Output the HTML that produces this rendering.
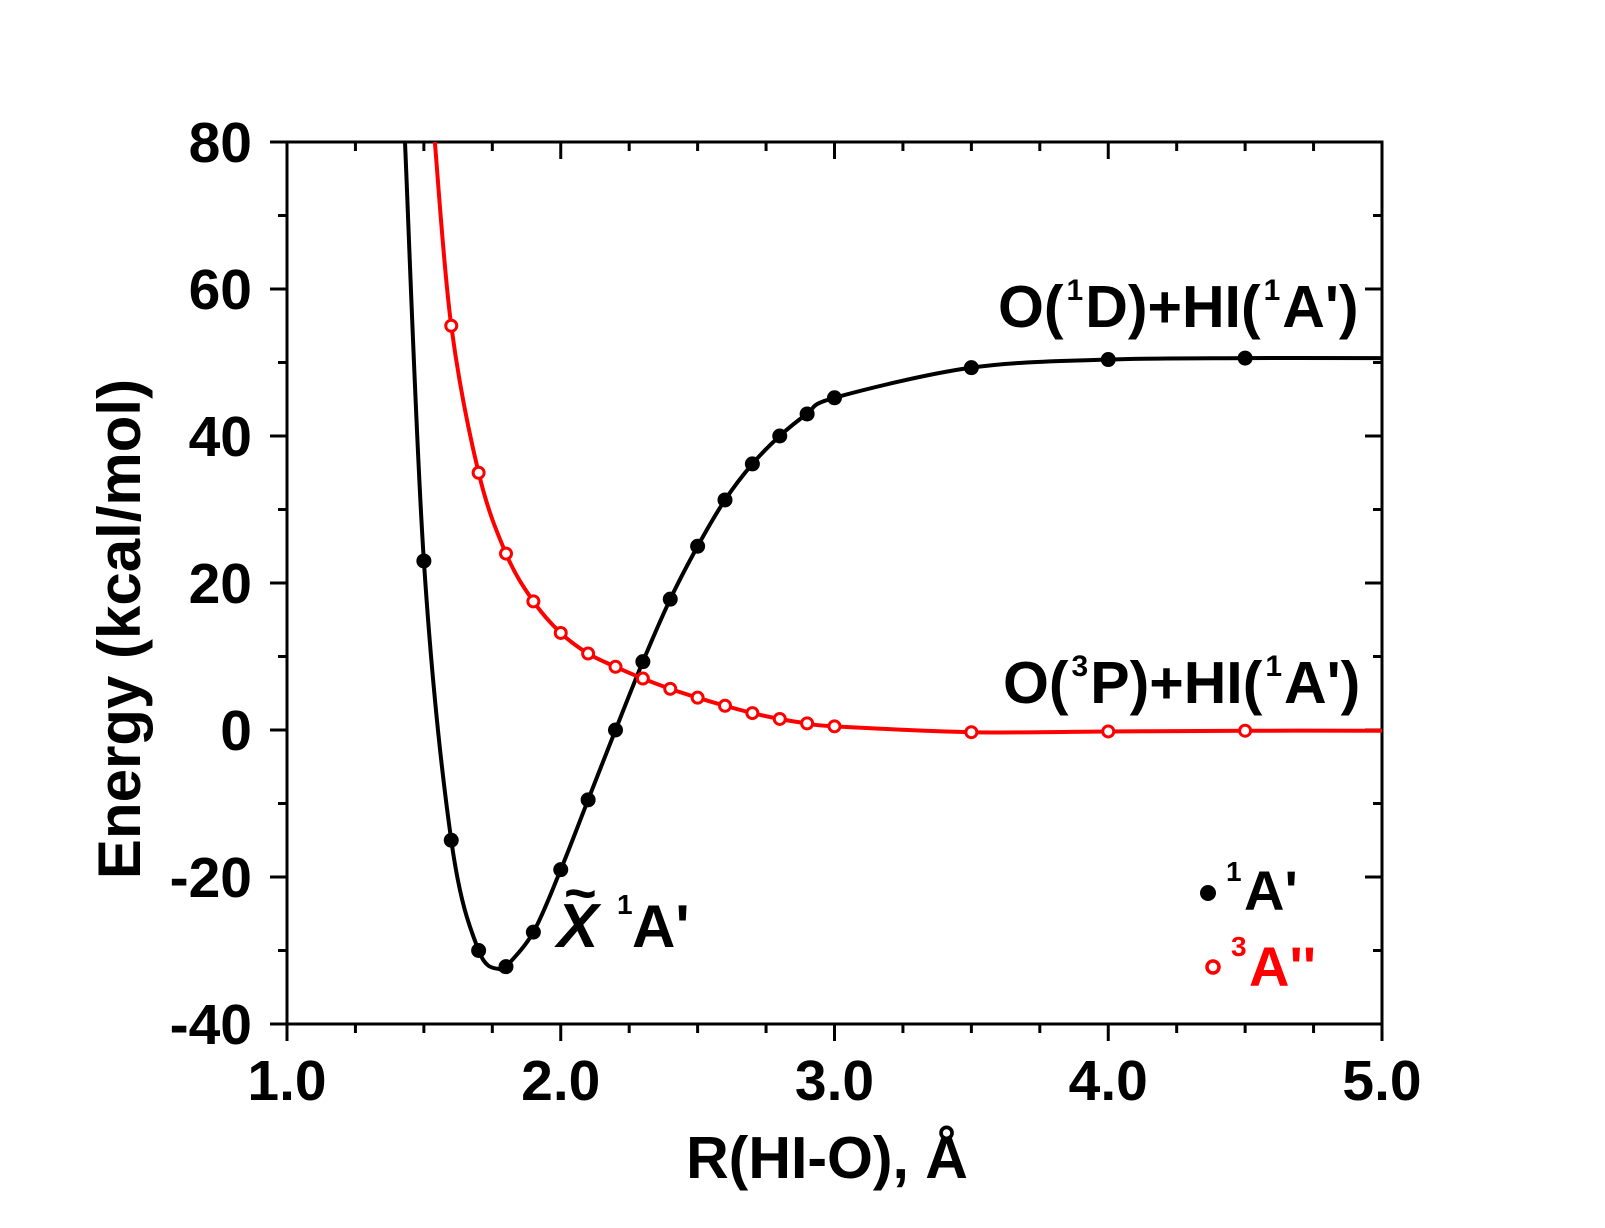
<!DOCTYPE html>
<html><head><meta charset="utf-8"><style>
html,body{margin:0;padding:0;background:#fff}
svg{display:block}
text{font-family:"Liberation Sans",Arial,sans-serif;font-weight:bold}
</style></head><body>
<svg id="s" width="1605" height="1228" viewBox="0 0 1605 1228" xmlns="http://www.w3.org/2000/svg">
<g id="ax" stroke="#000" stroke-width="3" fill="none"></g>
<g id="cv"></g>
<g font-size="57" text-anchor="end" id="yl"></g>
<g font-size="57" text-anchor="middle" id="xl"></g>
<text x="0" y="0" font-size="60" text-anchor="middle" transform="translate(140,629) rotate(-90)">Energy (kcal/mol)</text>
<text x="827" y="1178" font-size="59" text-anchor="middle">R(HI-O), Å</text>
<text x="998" y="327" font-size="59">O(<tspan font-size="30" dy="-27" dx="3">1</tspan><tspan dy="27" dx="2">D)+HI(</tspan><tspan font-size="30" dy="-27" dx="3">1</tspan><tspan dy="27" dx="2">A')</tspan></text>
<text x="1003" y="703" font-size="59">O(<tspan font-size="30" dy="-27" dx="3">3</tspan><tspan dy="27" dx="2">P)+HI(</tspan><tspan font-size="30" dy="-27" dx="3">1</tspan><tspan dy="27" dx="2">A')</tspan></text>
<text x="557" y="947" font-size="62" font-style="italic">X</text>
<text x="564" y="912" font-size="56">~</text>
<text x="617" y="914" font-size="28">1</text>
<text x="632" y="947" font-size="60">A'</text>
<circle cx="1208" cy="893" r="8" fill="#000"/>
<text x="1226" y="881" font-size="28">1</text>
<text x="1244" y="910" font-size="56">A'</text>
<circle cx="1213" cy="967" r="6" fill="none" stroke="#f00" stroke-width="3.5"/>
<text x="1231" y="956" font-size="28" fill="#f00">3</text>
<text x="1249" y="986" font-size="56" fill="#f00">A''</text>
</svg>
<script>
var X0=287,X1=1382,Y0=142,Y1=1024;
function px(x){return X0+(x-1)*(X1-X0)/4}
function py(y){return Y0+(80-y)*(Y1-Y0)/120}
var ns="http://www.w3.org/2000/svg";
function el(p,t,a){var e=document.createElementNS(ns,t);for(var k in a)e.setAttribute(k,a[k]);p.appendChild(e);return e}
var ax=document.getElementById('ax');
el(ax,'rect',{x:X0,y:Y0,width:X1-X0,height:Y1-Y0});
for(var i=0;i<=16;i++){var x=px(1+i*0.25),mj=i%4==0;
 el(ax,'line',{x1:x,y1:Y1,x2:x,y2:Y1+(mj?17:9)});
 el(ax,'line',{x1:x,y1:Y0,x2:x,y2:Y0+(mj?17:9)});
 if(mj){var t=el(document.getElementById('xl'),'text',{x:x,y:1100});t.textContent=(1+i/4).toFixed(1);}}
for(var v=-40;v<=80;v+=10){var y=py(v),mj=v%20==0;
 el(ax,'line',{x1:X0,y1:y,x2:X0-(mj?17:9),y2:y});
 el(ax,'line',{x1:X1,y1:y,x2:X1-(mj?17:9),y2:y});
 if(mj){var t=el(document.getElementById('yl'),'text',{x:252,y:y+20});t.textContent=v;}}
var B=[[1.431,80],[1.5,23],[1.6,-15],[1.7,-30],[1.78,-32.6],[1.8,-32.2],[1.9,-27.5],[2.0,-19],[2.1,-9.5],[2.2,0],[2.3,9.3],[2.4,17.8],[2.5,25],[2.6,31.3],[2.7,36.2],[2.8,40],[2.9,43],[3.0,45.2],[3.5,49.3],[4.0,50.4],[4.5,50.6],[5.0,50.6]];
var R=[[1.54,80],[1.6,55],[1.7,35],[1.8,24],[1.9,17.5],[2.0,13.2],[2.1,10.4],[2.2,8.6],[2.3,7],[2.4,5.6],[2.5,4.4],[2.6,3.3],[2.7,2.3],[2.8,1.5],[2.9,0.9],[3.0,0.5],[3.5,-0.3],[4.0,-0.2],[4.5,-0.1],[5.0,-0.1]];
function path(P){var p=P.map(function(a){return[px(a[0]),py(a[1])]});var d='M'+p[0][0]+','+p[0][1];
 for(var i=0;i<p.length-1;i++){var a=p[Math.max(i-1,0)],b=p[i],c=p[i+1],e=p[Math.min(i+2,p.length-1)];
  d+='C'+(b[0]+(c[0]-a[0])/6)+','+(b[1]+(c[1]-a[1])/6)+' '+(c[0]-(e[0]-b[0])/6)+','+(c[1]-(e[1]-b[1])/6)+' '+c[0]+','+c[1];}
 return d}
var cv=document.getElementById('cv');
el(cv,'path',{d:path(B),stroke:'#000','stroke-width':4,fill:'none'});
el(cv,'path',{d:path(R),stroke:'#f00','stroke-width':4,fill:'none'});
B.forEach(function(a,i){if(i>0&&a[0]<5&&a[0]!=1.78)el(cv,'circle',{cx:px(a[0]),cy:py(a[1]),r:7.5,fill:'#000'})});
R.forEach(function(a,i){if(i>0&&a[0]<5)el(cv,'circle',{cx:px(a[0]),cy:py(a[1]),r:5.5,fill:'#fff',stroke:'#f00','stroke-width':3})});
</script>
</body></html>
